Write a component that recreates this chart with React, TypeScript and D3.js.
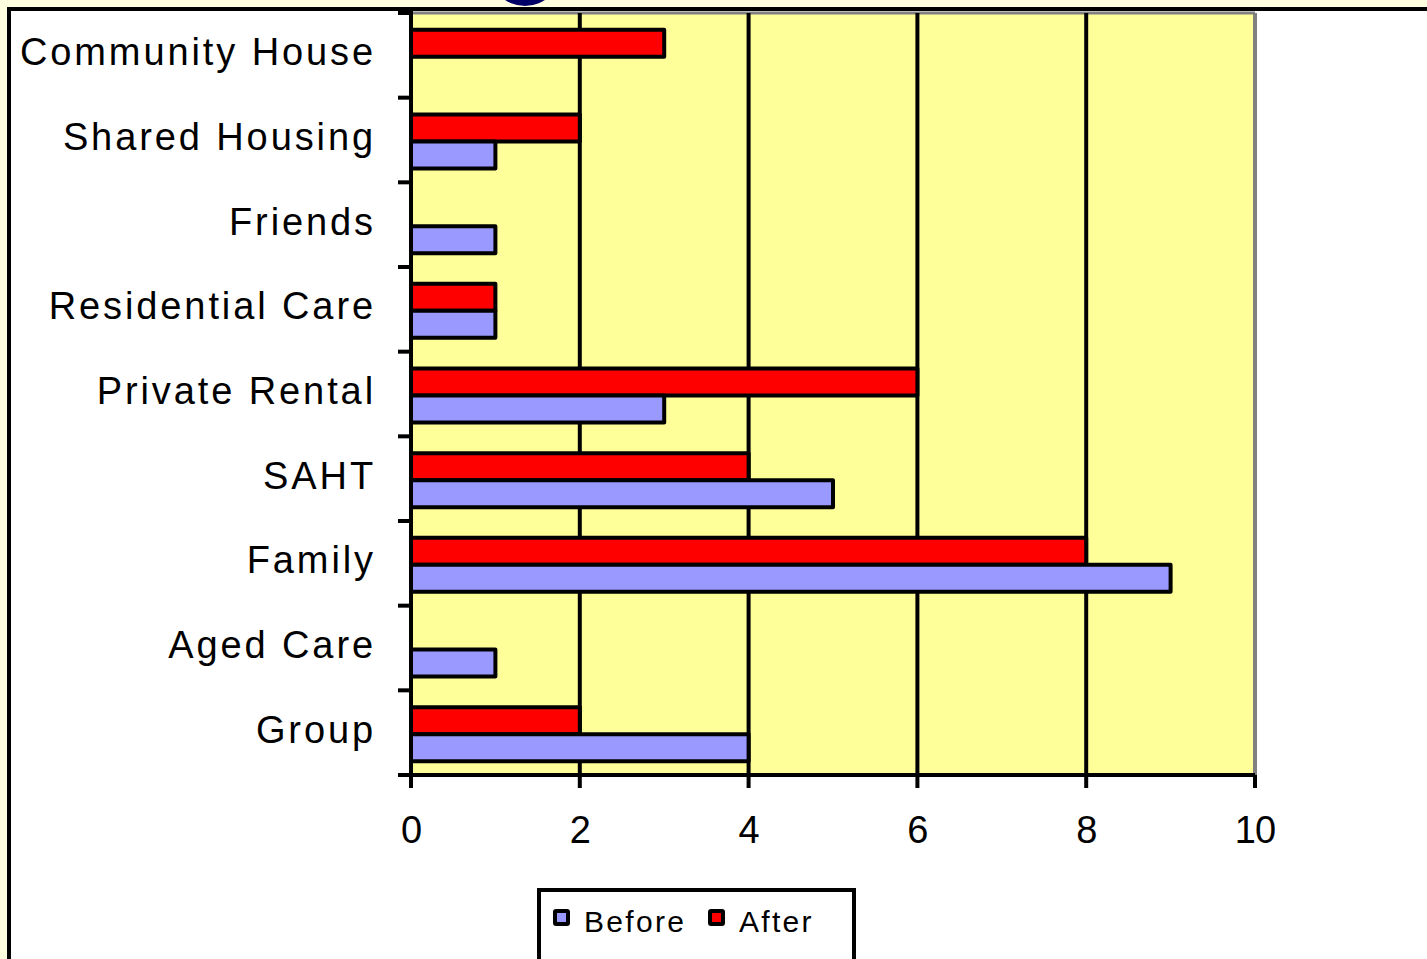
import React from "react";
import * as d3 from "d3";

const categories = [
  "Community House",
  "Shared Housing",
  "Friends",
  "Residential Care",
  "Private Rental",
  "SAHT",
  "Family",
  "Aged Care",
  "Group",
];
const beforeValues = [0, 1, 1, 1, 3, 5, 9, 1, 4];
const afterValues = [3, 2, 0, 1, 6, 4, 8, 0, 2];
const xTicks = [0, 2, 4, 6, 8, 10];
const seriesNames = ["Before", "After"];
const seriesColors = ["#9999FF", "#FF0000"];

const W = 1427;
const H = 959;
const plot = { left: 411, right: 1255, top: 13, bottom: 775 };
const FONT = "'Liberation Sans', Arial, sans-serif";

export default function App() {
  const x = d3.scaleLinear().domain([0, 10]).range([plot.left, plot.right]);
  const y = d3.scaleBand<string>().domain(categories).range([plot.top, plot.bottom]);
  const inner = d3
    .scaleBand<string>()
    .domain(["After", "Before"])
    .range([1.5, y.bandwidth() + 1.5])
    .paddingOuter(0.57)
    .paddingInner(0);

  const bars: { cat: string; series: string; v: number; color: string }[] = [];
  categories.forEach((c, i) => {
    bars.push({ cat: c, series: "After", v: afterValues[i], color: seriesColors[1] });
    bars.push({ cat: c, series: "Before", v: beforeValues[i], color: seriesColors[0] });
  });

  const tickYs = categories.map((c) => y(c)!).concat([plot.bottom]);

  return (
    <svg
      width={W}
      height={H}
      style={{ position: "absolute", left: 0, top: 0, display: "block" }}
    >
      <rect x={0} y={0} width={W} height={H} fill="#FFFFE0" />
      <circle cx={525} cy={-30} r={36} fill="#000066" />
      <rect x={9} y={9} width={W + 10} height={H + 10} fill="#FFFFFF" stroke="#000" strokeWidth={4} />

      {/* plot area */}
      <rect
        x={plot.left}
        y={plot.top}
        width={plot.right - plot.left}
        height={plot.bottom - plot.top}
        fill="#FFFF99"
      />
      <line x1={plot.left} x2={plot.right} y1={plot.top} y2={plot.top} stroke="#808080" strokeWidth={3} />
      <line x1={plot.right} x2={plot.right} y1={plot.top} y2={plot.bottom} stroke="#808080" strokeWidth={4} />

      {/* gridlines */}
      {xTicks
        .filter((t) => t > 0 && t < 10)
        .map((t) => (
          <line key={"g" + t} x1={x(t)} x2={x(t)} y1={plot.top} y2={plot.bottom} stroke="#000" strokeWidth={4} />
        ))}

      {/* bars */}
      {bars
        .filter((b) => b.v > 0)
        .map((b, i) => (
          <rect
            key={"b" + i}
            x={x(0)}
            y={y(b.cat)! + inner(b.series)!}
            width={x(b.v) - x(0)}
            height={inner.bandwidth()}
            fill={b.color}
            stroke="#000"
            strokeWidth={4}
            strokeLinejoin="round"
          />
        ))}

      {/* axes */}
      <line x1={plot.left} x2={plot.left} y1={plot.top - 4} y2={plot.bottom + 2} stroke="#000" strokeWidth={4} />
      <line x1={plot.left - 13} x2={plot.right} y1={plot.bottom} y2={plot.bottom} stroke="#000" strokeWidth={4} />
      {tickYs.map((ty, i) => (
        <line key={"yt" + i} x1={plot.left - 13} x2={plot.left} y1={ty} y2={ty} stroke="#000" strokeWidth={4} />
      ))}
      {xTicks.map((t) => (
        <line key={"xt" + t} x1={x(t)} x2={x(t)} y1={plot.bottom} y2={plot.bottom + 13} stroke="#000" strokeWidth={4} />
      ))}

      {/* category labels */}
      {categories.map((c) => (
        <text
          key={"cl" + c}
          x={376}
          y={y(c)! + y.bandwidth() / 2 - 3}
          dominantBaseline="central"
          textAnchor="end"
          fontFamily={FONT}
          fontSize={38}
          letterSpacing={2.9}
          fill="#000"
        >
          {c}
        </text>
      ))}

      {/* value tick labels */}
      {xTicks.map((t) => (
        <text
          key={"xl" + t}
          x={x(t)}
          y={843}
          textAnchor="middle"
          fontFamily={FONT}
          fontSize={38}
          letterSpacing={-1}
          fill="#000"
        >
          {t}
        </text>
      ))}

      {/* legend */}
      <rect x={539} y={890} width={315} height={100} fill="#FFFFFF" stroke="#000" strokeWidth={4} />
      {seriesNames.map((s, i) => {
        const lx = i === 0 ? 553 : 708;
        return (
          <g key={"lg" + s}>
            <rect x={lx + 2} y={911} width={13} height={13} fill={seriesColors[i]} stroke="#000" strokeWidth={4} rx={1} />
            <text x={lx + 31} y={932} fontFamily={FONT} fontSize={30} letterSpacing={2.3} fill="#000">
              {s}
            </text>
          </g>
        );
      })}
    </svg>
  );
}
